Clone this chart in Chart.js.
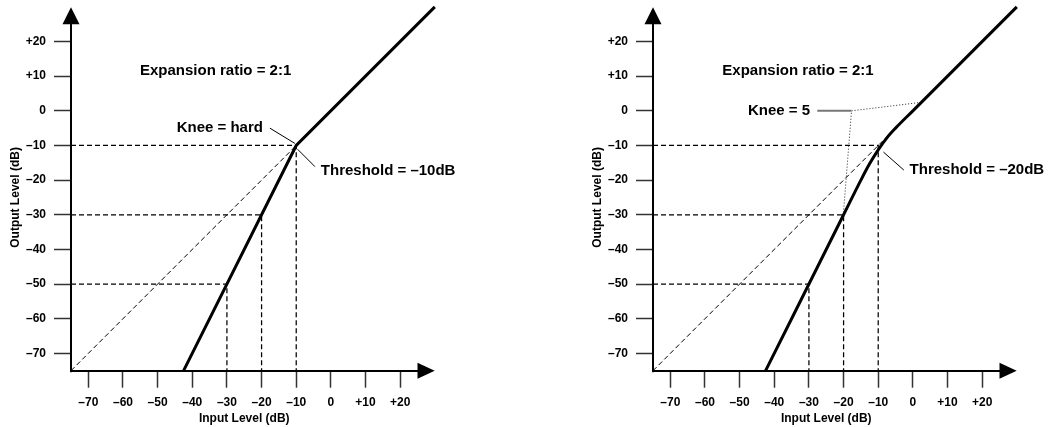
<!DOCTYPE html>
<html><head><meta charset="utf-8">
<script src="https://cdn.jsdelivr.net/npm/chart.js@4/dist/chart.umd.min.js"></script>
<style>
html,body{margin:0;padding:0;background:#fff;width:1050px;height:427px;overflow:hidden;}
canvas{position:absolute;top:0;}
#left{left:0px}
#right{left:582px}
</style></head><body>
<canvas id="left" width="468" height="427"></canvas>
<canvas id="right" width="468" height="427"></canvas>
<script>
// ---- data ----
const tickValues = [-70, -60, -50, -40, -30, -20, -10, 0, 10, 20];
const tickLabels = ['–70', '–60', '–50', '–40', '–30', '–20', '–10', '0', '+10', '+20'];
const axisMin = -75;
const axisMax = 25;
const xTitle = 'Input Level (dB)';
const yTitle = 'Output Level (dB)';

// hard-knee panel (input -> output, dB)
const hardInput  = [-42.5, -10, 30];
const hardOutput = [-75, -10, 30];
const hardUnityInput  = [-75, -10];

// soft-knee panel (input -> output, dB)
const softInput  = [-42.5, -20, -15, -12.5, -10, -7.5, -5, 0, 30];
const softOutput = [-75, -30, -20, -15.3, -11.25, -7.8, -5, 0, 30];
const softUnityInput = [-75, -3.5];

// dashed guide levels (input, output)
const guideInput  = [-30, -20, -10];
const guideOutput = [-50, -30, -10];

// annotation texts
const hardTexts = ['Expansion ratio = 2:1', 'Knee = hard', 'Threshold = –10dB'];
const softTexts = ['Expansion ratio = 2:1', 'Knee = 5', 'Threshold = –20dB'];
// annotation anchors in dB (input, output)
const hardTextX = [-55.1, -19.6, -2.9];
const hardTextY = [11.5, -5.0, -17.3];
const hardTextAlign = ['left', 'right', 'left'];
const softTextX = [-55.0, -47.6, -0.95];
const softTextY = [11.5, 0, -17.1];
const softTextAlign = ['left', 'left', 'left'];

// leader lines in dB
const hardKneeLeaderX = [-17.6, -10.4];
const hardKneeLeaderY = [-5.0, -9.4];
const hardThreshLeaderX = [-9.6, -4.6];
const hardThreshLeaderY = [-11.1, -16.1];
const softKneeLeaderX = [-27.6, -17.7];
const softKneeLeaderY = [0, 0];
const softKneeDotX = [-20.1, -17.7, 2.0];
const softKneeDotY = [-30.2, 0, 2.4];
const softThreshLeaderX = [-8.5, -2.6];
const softThreshLeaderY = [-11.9, -17.1];

// ---- helpers ----
const FONT = '"Liberation Sans", Arial, Helvetica, sans-serif';
Chart.defaults.font.family = FONT;
Chart.defaults.color = '#000';

function pts(xs, ys) { return xs.map((x, i) => ({x: x, y: ys[i]})); }
function guidePoints() {
  const out = [];
  guideInput.forEach((inp, i) => {
    out.push({x: axisMin, y: guideOutput[i]});
    out.push({x: inp, y: guideOutput[i]});
    out.push({x: inp, y: axisMin});
    out.push({x: inp, y: null});
  });
  return out;
}
function lineDs(data, opts) {
  return Object.assign({
    type: 'line', data: data, borderColor: '#000', borderWidth: 1,
    pointRadius: 0, fill: false, tension: 0, clip: false, spanGaps: false
  }, opts);
}

const arrowPlugin = {
  id: 'arrows',
  afterDraw(chart) {
    const a = chart.chartArea, ctx = chart.ctx;
    ctx.save();
    ctx.fillStyle = '#000';
    ctx.beginPath();
    ctx.moveTo(a.left, a.top - 17);
    ctx.lineTo(a.left - 8.5, a.top);
    ctx.lineTo(a.left + 8.5, a.top);
    ctx.closePath(); ctx.fill();
    ctx.beginPath();
    ctx.moveTo(a.right + 17.2, a.bottom);
    ctx.lineTo(a.right, a.bottom - 8);
    ctx.lineTo(a.right, a.bottom + 8);
    ctx.closePath(); ctx.fill();
    ctx.fillRect(a.left - 1, a.bottom - 1, 2, 2.5);
    ctx.restore();
  }
};

const textPlugin = {
  id: 'notes',
  afterDatasetsDraw(chart) {
    const n = chart.options.plugins.notes;
    if (!n) return;
    const xs = chart.scales.x, ys = chart.scales.y, ctx = chart.ctx;
    ctx.save();
    ctx.font = 'bold 15px ' + FONT;
    ctx.fillStyle = '#000';
    ctx.textBaseline = 'middle';
    n.texts.forEach((t, i) => {
      ctx.textAlign = n.align[i];
      ctx.fillText(t, xs.getPixelForValue(n.x[i]), ys.getPixelForValue(n.y[i]));
    });
    ctx.restore();
  }
};

function axis(isX) {
  return {
    type: 'linear', min: axisMin, max: axisMax,
    afterBuildTicks: s => { s.ticks = tickValues.map(v => ({value: v})); },
    afterFit: s => { if (isX) s.height = 56.3; else s.width = 71; },
    ticks: {
      callback: v => tickLabels[tickValues.indexOf(v)],
      padding: isX ? 7.5 : 8,
      font: {weight: 'bold', size: 12}, color: '#000',
      autoSkip: false, maxRotation: 0, minRotation: 0
    },
    grid: {display: true, drawOnChartArea: false, drawTicks: true, tickLength: 17, tickWidth: 1.5, tickColor: '#333'},
    border: {display: true, color: '#000', width: 2},
    title: {
      display: true, text: isX ? xTitle : yTitle,
      font: {weight: 'bold', size: 12}, color: '#000',
      padding: isX ? {top: 0, bottom: 0.8} : {top: 8.8, bottom: 0}
    }
  };
}

function makeChart(id, datasets, notes) {
  return new Chart(document.getElementById(id), {
    type: 'line',
    data: {datasets: datasets},
    options: {
      responsive: false, animation: false, devicePixelRatio: 1,
      parsing: true,
      layout: {padding: {left: 0, top: 24.2, right: 50.5, bottom: 0}},
      scales: {x: axis(true), y: axis(false)},
      plugins: {legend: {display: false}, tooltip: {enabled: false}, notes: notes}
    },
    plugins: [arrowPlugin, textPlugin]
  });
}

// left: hard knee
makeChart('left', [
  lineDs(pts(hardUnityInput, hardUnityInput), {borderDash: [5, 3], borderWidth: 1}),
  lineDs(guidePoints(), {borderDash: [5, 3], borderWidth: 1.25}),
  lineDs(pts(hardKneeLeaderX, hardKneeLeaderY), {borderWidth: 1}),
  lineDs(pts(hardThreshLeaderX, hardThreshLeaderY), {borderWidth: 1}),
  lineDs(pts(hardInput, hardOutput), {borderWidth: 3})
], {texts: hardTexts, x: hardTextX, y: hardTextY, align: hardTextAlign});

// right: soft knee
makeChart('right', [
  lineDs(pts(softUnityInput, softUnityInput), {borderDash: [5, 3], borderWidth: 1}),
  lineDs(guidePoints(), {borderDash: [5, 3], borderWidth: 1.25}),
  lineDs(pts(softKneeLeaderX, softKneeLeaderY), {borderWidth: 2, borderColor: '#777'}),
  lineDs(pts(softKneeDotX, softKneeDotY), {borderWidth: 1, borderDash: [1, 2], borderColor: '#222'}),
  lineDs(pts(softThreshLeaderX, softThreshLeaderY), {borderWidth: 1}),
  lineDs(pts(softInput, softOutput), {borderWidth: 3, cubicInterpolationMode: 'monotone'})
], {texts: softTexts, x: softTextX, y: softTextY, align: softTextAlign});
</script>
</body></html>
